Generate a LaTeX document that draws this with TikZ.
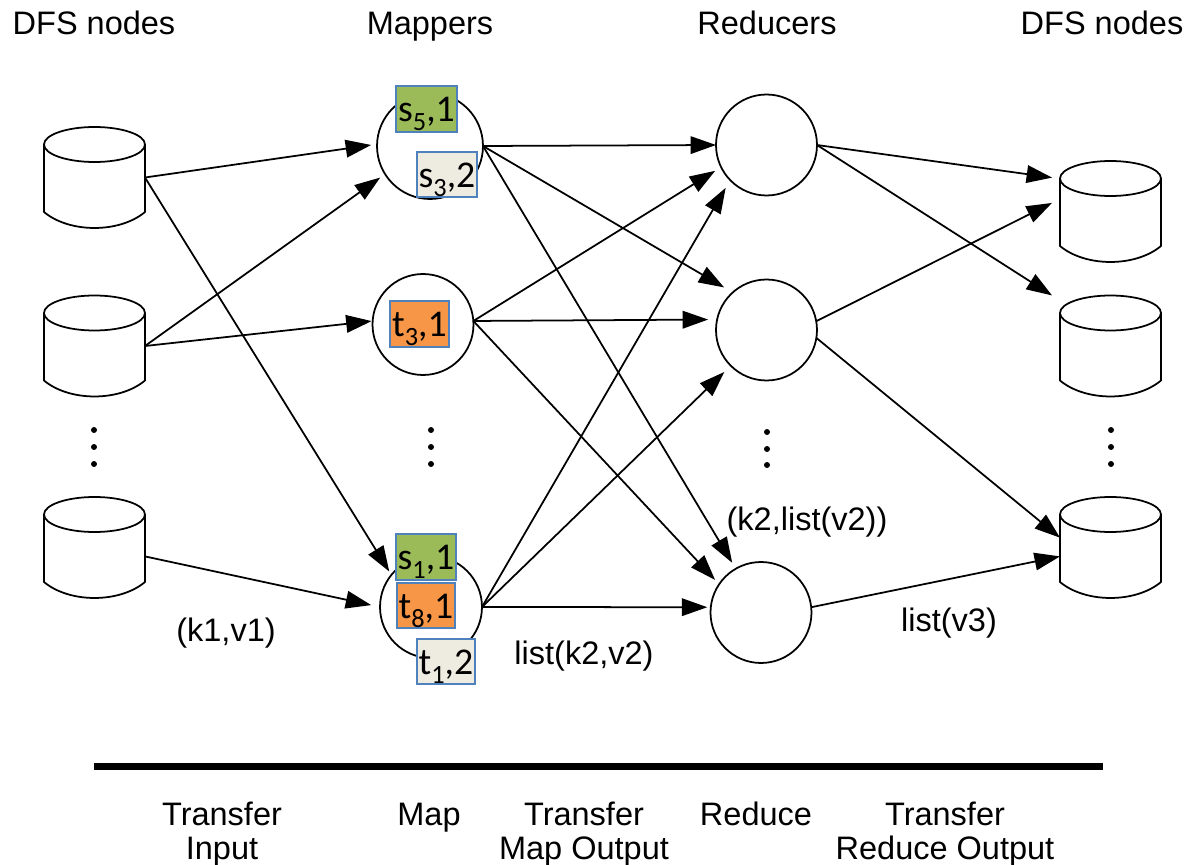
\documentclass[tikz,border=0pt]{standalone}
\usepackage{fontspec}
\setmainfont{Liberation Sans}
\newfontfamily\boxfont{Carlito}
\usetikzlibrary{arrows.meta}
\definecolor{boxedge}{HTML}{4F81BD}
\definecolor{boxgreen}{HTML}{9BBB59}
\definecolor{boxorange}{HTML}{F79646}
\definecolor{boxtan}{HTML}{EEECE1}
\tikzset{
	disk/.style={minimum width=2.02cm, minimum height=2.02cm, inner sep=0pt, outer sep=0pt},
	worker/.style={draw, circle, line width=1pt, minimum size=2.02cm, inner sep=0pt, outer sep=0pt},
	record/.style={draw=boxedge, line width=1pt, inner sep=0pt, outer sep=0pt, text height=20.3pt, text depth=5.7pt, font=\boxfont\fontsize{21.5}{23}\selectfont},
	flow/.style={line width=1pt, -{Triangle[length=14.5pt, width=10pt]}},
	caption/.style={font=\fontsize{18.5}{19.3}\selectfont, align=center, inner sep=0pt},
}
\def\dfsdisk(#1)(#2,#3){
	\node[disk] (#1) at (#2,#3) {};
	\draw[line width=1pt, line join=round, shift={(#2,#3)}] (-50.5,-33) arc[start angle=180, end angle=-180, x radius=1.01cm, y radius=-0.35cm] -- (-50.5,34.5) .. controls (-25,55.8) and (25,55.8) .. (50.5,34.5) -- (50.5,-33);
}
\def\sub#1{\raisebox{-5pt}{\fontsize{15}{15}\selectfont #1}}

\begin{document}
\begin{tikzpicture}[x=0.02cm, y=-0.02cm]
	\useasboundingbox (0,0) rectangle (1188,865);

	%%%%% HEADINGS %%%%%
	\node[caption, anchor=base] (headsrc) at (94,34.5) {DFS nodes};
	\node[caption, anchor=base] (headmap) at (430,34.5) {Mappers};
	\node[caption, anchor=base] (headred) at (767,34.5) {Reducers};
	\node[caption, anchor=base] (headdst) at (1102,34.5) {DFS nodes};

	%%%%% DISKS %%%%%
	\dfsdisk(d1)(94.5,177.5)
	\dfsdisk(d2)(94.5,346)
	\dfsdisk(d3)(94.5,547.5)

	\dfsdisk(u1)(1110.5,211.5)
	\dfsdisk(u2)(1110.5,346)
	\dfsdisk(u3)(1110.5,547.5)

	%%%%% WORKERS %%%%%
	\node[worker, minimum size=2.12cm] (m1) at (430,146) {};
	\node[worker] (m2) at (423,324.5) {};
	\node[worker, minimum size=2.04cm] (m3) at (431,607) {};

	\node[worker] (r1) at (766.5,145) {};
	\node[worker] (r2) at (766.5,330) {};
	\node[worker] (r3) at (761,612.5) {};

	\node[record, fill=boxgreen, minimum width=1.22cm] (s5) at (426.5,109) {s\sub{5},1};
	\node[record, fill=boxtan, minimum width=1.2cm] (s3) at (447,174.5) {s\sub{3},2};
	\node[record, fill=boxorange, minimum width=1.18cm] (t3) at (419.5,324) {t\sub{3},1};
	\node[record, fill=boxgreen, minimum width=1.2cm] (s1) at (426,557) {s\sub{1},1};
	\node[record, fill=boxorange, minimum width=1.16cm] (t8) at (426,605.5) {t\sub{8},1};
	\node[record, fill=boxtan, minimum width=1.16cm] (t1) at (446,661.5) {t\sub{1},2};

	%%%%% DOTS %%%%%
	\foreach \dotx/\doty in {94/430, 94/447, 94/464, 431/430, 431/447, 431/464, 767/432, 767/449, 767/465, 1111/430, 1111/447, 1111/464}
		\fill (\dotx,\doty) circle (3);

	%%%%% TRANSFER INPUT %%%%%
	\draw[flow, shorten >=6*0.5669pt] (d1.east) -- (m1.178);
	\draw[flow, shorten >=4*0.5669pt] (d1.east) -- (m3.141);
	\draw[flow, shorten >=6*0.5669pt] (d2.east) -- (m1.212);
	\draw[flow, shorten >=1*0.5669pt] (d2.east) -- (m2.176);
	\draw[flow, shorten >=9*0.5669pt] (d3.-10) -- (m3.west);

	%%%%% TRANSFER MAP OUTPUT %%%%%
	\draw[flow] (m1.east) -- (r1.west);
	\draw[flow, shorten >=10*0.5669pt] (m1.east) -- (r2.132);
	\draw[flow, shorten >=7*0.5669pt] (m1.east) -- (r3.120);
	\draw[flow, shorten >=7*0.5669pt] (m2.4) -- (r1.206);
	\draw[flow, shorten >=9*0.5669pt] (m2.4) -- (r2.168);
	\draw[flow, shorten >=6*0.5669pt] (m2.4) -- (r3.146);
	\draw[flow, shorten >=9*0.5669pt] (m3.east) -- (r1.224);
	\draw[flow, shorten >=9*0.5669pt] (m3.east) -- (r2.225);
	\draw[flow, shorten >=3.5*0.5669pt] (m3.east) -- (r3.174);

	%%%%% TRANSFER REDUCE OUTPUT %%%%%
	\draw[flow, shorten >=8*0.5669pt] (r1.east) -- (u1.147);
	\draw[flow, shorten >=9.5*0.5669pt] (r1.east) -- (u2.138);
	\draw[flow, shorten >=9*0.5669pt] (r2.10) -- (u1.166);
	\draw[flow] (r2.-9) -- (u3.169);
	\draw[flow] (r3.6) -- (u3.190);

	%%%%% LABELS %%%%%
	\node[caption] (kvin) at (226,633) {(k1,v1)};
	\node[caption] (kvmap) at (584,656) {list(k2,v2)};
	\node[caption] (kvred) at (807,522) {(k2,list(v2))};
	\node[caption] (kvout) at (949,623) {list(v3)};

	\coordinate (barl) at (94,766.5);
	\coordinate (barr) at (1103,766.5);
	\draw[line width=4pt] (barl) -- (barr);

	\node[caption] (phase1) at (222,834) {Transfer\\Input};
	\node[caption, anchor=base] (phase2) at (429,825) {Map};
	\node[caption] (phase3) at (584,834) {Transfer\\Map Output};
	\node[caption, anchor=base] (phase4) at (756,825) {Reduce};
	\node[caption] (phase5) at (945,834) {Transfer\\Reduce Output};
\end{tikzpicture}
\end{document}
